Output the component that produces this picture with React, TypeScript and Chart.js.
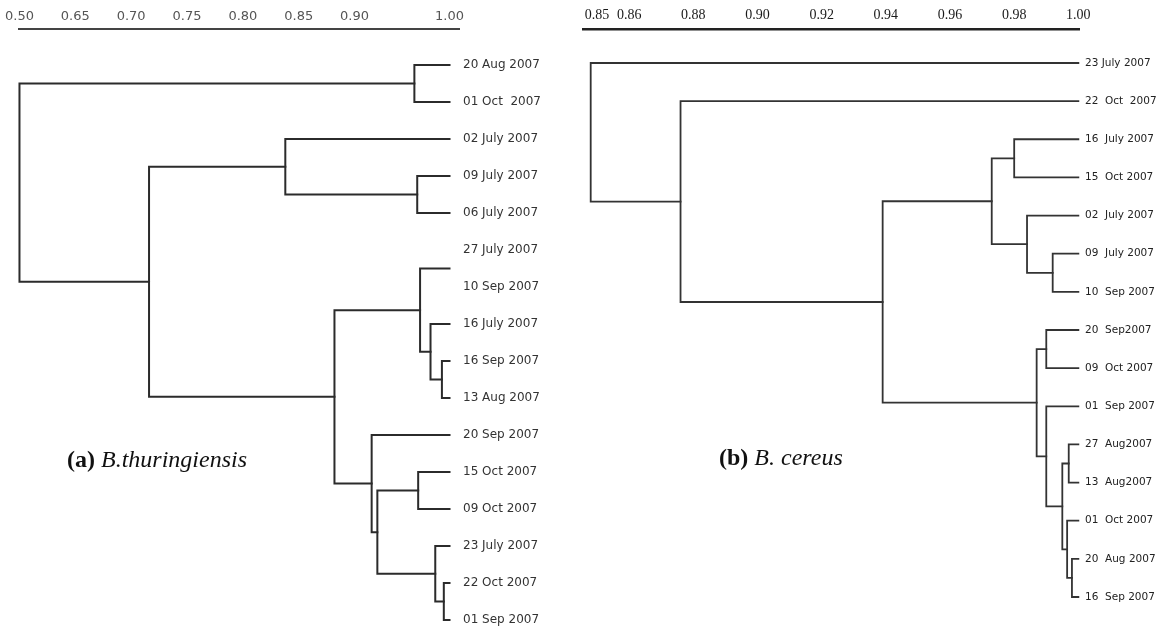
import React, { useEffect, useRef } from "react";
import { Chart, registerables } from "chart.js";

Chart.register(...registerables);

// ---------- Panel (a) B.thuringiensis ----------
const axisLabelsA = ["0.50", "0.65", "0.70", "0.75", "0.80", "0.85", "0.90", "1.00"];
const axisValuesA = [0.5, 0.65, 0.7, 0.75, 0.8, 0.85, 0.9, 1.0];
// the printed axis of panel (a) is not linear: slot position of each tick label
const axisSlotsA = [0, 1, 2, 3, 4, 5, 6, 7.7];
const leafLabelsA = [
  "20 Aug 2007", "01 Oct  2007", "02 July 2007", "09 July 2007", "06 July 2007",
  "27 July 2007", "10 Sep 2007", "16 July 2007", "16 Sep 2007", "13 Aug 2007",
  "20 Sep 2007", "15 Oct 2007", "09 Oct 2007", "23 July 2007", "22 Oct 2007", "01 Sep 2007",
];
// row (label line) where each branch tip sits
const leafRowsA = [0, 1, 2, 3, 4, 5.5, 7, 8, 9, 10, 11, 12, 13, 14, 15];
// merges: ids < 15 are leaves, 15+k is merge k
const mergeLeftA = [0, 3, 2, 7, 6, 5, 10, 13, 12, 21, 9, 20, 17, 15];
const mergeRightA = [1, 4, 16, 8, 18, 19, 11, 14, 22, 23, 24, 25, 26, 27];
const mergeSimA = [0.963, 0.966, 0.838, 0.992, 0.98, 0.969, 0.967, 0.994, 0.985, 0.924, 0.918, 0.882, 0.716, 0.5];

// ---------- Panel (b) B. cereus ----------
const axisValuesB = [0.85, 0.86, 0.88, 0.9, 0.92, 0.94, 0.96, 0.98, 1.0];
const leafLabelsB = [
  "23 July 2007", "22  Oct  2007", "16  July 2007", "15  Oct 2007", "02  July 2007",
  "09  July 2007", "10  Sep 2007", "20  Sep2007", "09  Oct 2007", "01  Sep 2007",
  "27  Aug2007", "13  Aug2007", "01  Oct 2007", "20  Aug 2007", "16  Sep 2007",
];
const leafRowsB = [0, 1, 2, 3, 4, 5, 6, 7, 8, 9, 10, 11, 12, 13, 14];
const mergeLeftB = [2, 5, 4, 15, 7, 10, 13, 12, 20, 9, 19, 18, 1, 0];
const mergeRightB = [3, 6, 16, 17, 8, 11, 14, 21, 22, 23, 24, 25, 26, 27];
const mergeSimB = [0.98, 0.992, 0.984, 0.973, 0.99, 0.997, 0.998, 0.9965, 0.995, 0.99, 0.987, 0.939, 0.876, 0.848];

const LEAF_SIM = 1.0;

function toSlotA(v: number): number {
  for (let i = 0; i < axisValuesA.length - 1; i++) {
    const a = axisValuesA[i], b = axisValuesA[i + 1];
    if (v <= b || i === axisValuesA.length - 2) {
      return axisSlotsA[i] + ((v - a) / (b - a)) * (axisSlotsA[i + 1] - axisSlotsA[i]);
    }
  }
  return 0;
}

function buildBrackets(
  leafRows: number[], left: number[], right: number[], sims: number[],
  xf: (v: number) => number
) {
  const pos = leafRows.map((r) => ({ x: xf(LEAF_SIM), y: r }));
  const segs: { x: number; y: number }[][] = [];
  for (let k = 0; k < sims.length; k++) {
    const a = pos[left[k]];
    const b = pos[right[k]];
    const h = xf(sims[k]);
    segs.push([
      { x: a.x, y: a.y },
      { x: h, y: a.y },
      { x: h, y: b.y },
      { x: b.x, y: b.y },
    ]);
    pos.push({ x: h, y: (a.y + b.y) / 2 });
  }
  return segs;
}

function makeConfig(opts: {
  segs: { x: number; y: number }[][];
  lineColor: string;
  lineWidth: number;
  xMin: number;
  xMax: number;
  xTicks: number[];
  xLabel: (i: number) => string;
  xFont: any;
  xColor: string;
  xBorderColor: string;
  xBorderWidth: number;
  xPad: number;
  yMin: number;
  yMax: number;
  yLabels: string[];
  yFont: any;
  yColor: string;
  yWidth: number;
  yPad: number;
  padLeft: number;
}): any {
  return {
    type: "scatter",
    data: {
      datasets: opts.segs.map((s) => ({
        data: s,
        showLine: true,
        borderColor: opts.lineColor,
        borderWidth: opts.lineWidth,
        pointRadius: 0,
        pointHoverRadius: 0,
        fill: false,
        tension: 0,
        clip: false,
        borderCapStyle: "square",
        borderJoinStyle: "miter",
      })),
    },
    options: {
      animation: false,
      responsive: false,
      maintainAspectRatio: false,
      events: [],
      layout: { padding: { left: opts.padLeft, right: 0, top: 0, bottom: 14 } },
      plugins: { legend: { display: false }, tooltip: { enabled: false }, title: { display: false } },
      scales: {
        x: {
          type: "linear",
          position: "top",
          min: opts.xMin,
          max: opts.xMax,
          grid: { display: false, drawTicks: false },
          border: { display: true, color: opts.xBorderColor, width: opts.xBorderWidth },
          afterBuildTicks: (scale: any) => {
            scale.ticks = opts.xTicks.map((v) => ({ value: v }));
          },
          afterFit: (scale: any) => {
            scale.height = 29;
          },
          ticks: {
            autoSkip: false,
            maxRotation: 0,
            minRotation: 0,
            padding: opts.xPad,
            color: opts.xColor,
            font: opts.xFont,
            callback: (_v: any, i: number) => opts.xLabel(i),
          },
        },
        y: {
          type: "linear",
          position: "right",
          reverse: true,
          min: opts.yMin,
          max: opts.yMax,
          grid: { display: false, drawTicks: false },
          border: { display: false },
          afterBuildTicks: (scale: any) => {
            scale.ticks = opts.yLabels.map((_l, i) => ({ value: i }));
          },
          afterFit: (scale: any) => {
            scale.width = opts.yWidth;
          },
          ticks: {
            autoSkip: false,
            padding: opts.yPad,
            color: opts.yColor,
            font: opts.yFont,
            crossAlign: "near",
            callback: (_v: any, i: number) => opts.yLabels[i],
          },
        },
      },
    },
  };
}

function ChartCanvas({ config, width, height, left }: { config: () => any; width: number; height: number; left: number }) {
  const ref = useRef<HTMLCanvasElement | null>(null);
  useEffect(() => {
    if (!ref.current) return;
    const chart = new Chart(ref.current, config());
    return () => chart.destroy();
  }, []);
  return (
    <canvas
      ref={ref}
      width={width}
      height={height}
      style={{ position: "absolute", left, top: 0, width, height }}
    />
  );
}

const configA = () =>
  makeConfig({
    segs: buildBrackets(leafRowsA, mergeLeftA, mergeRightA, mergeSimA, toSlotA),
    lineColor: "#2b2b2b",
    lineWidth: 2,
    xMin: 0,
    xMax: 7.87,
    xTicks: axisValuesA.map(toSlotA),
    xLabel: (i) => axisLabelsA[i],
    xFont: { family: "DejaVu Sans", size: 13 },
    xColor: "#555555",
    xBorderColor: "#444444",
    xBorderWidth: 2,
    xPad: 5,
    yMin: -0.973,
    yMax: 15,
    yLabels: leafLabelsA,
    yFont: { family: "DejaVu Sans", size: 12 },
    yColor: "#333333",
    yWidth: 116,
    yPad: 4,
    padLeft: 16,
  });

const configB = () =>
  makeConfig({
    segs: buildBrackets(leafRowsB, mergeLeftB, mergeRightB, mergeSimB, (v) => v),
    lineColor: "#333333",
    lineWidth: 1.8,
    xMin: 0.8456,
    xMax: 1.0002,
    xTicks: axisValuesB,
    xLabel: (i) => axisValuesB[i].toFixed(2),
    xFont: { family: "Liberation Serif", size: 14 },
    xColor: "#1a1a1a",
    xBorderColor: "#222222",
    xBorderWidth: 2.5,
    xPad: 5,
    yMin: -0.891,
    yMax: 14.603,
    yLabels: leafLabelsB,
    yFont: { family: "DejaVu Sans", size: 10.5 },
    yColor: "#222222",
    yWidth: 78,
    yPad: 6,
    padLeft: 8,
  });

const captionStyle: React.CSSProperties = {
  position: "absolute",
  fontFamily: "'Liberation Serif', 'Times New Roman', serif",
  fontSize: 24,
  lineHeight: "28px",
  color: "#111",
  whiteSpace: "nowrap",
};

export default function App() {
  return (
    <div style={{ position: "absolute", left: 0, top: 0, width: 1157, height: 634, background: "#fff", overflow: "hidden" }}>
      <ChartCanvas config={configA} width={575} height={634} left={0} />
      <ChartCanvas config={configB} width={582} height={634} left={575} />
      <div style={{ ...captionStyle, left: 67, top: 445 }}>
        <b>(a)</b> <i>B.thuringiensis</i>
      </div>
      <div style={{ ...captionStyle, left: 719, top: 443 }}>
        <b>(b)</b> <i>B. cereus</i>
      </div>
    </div>
  );
}
